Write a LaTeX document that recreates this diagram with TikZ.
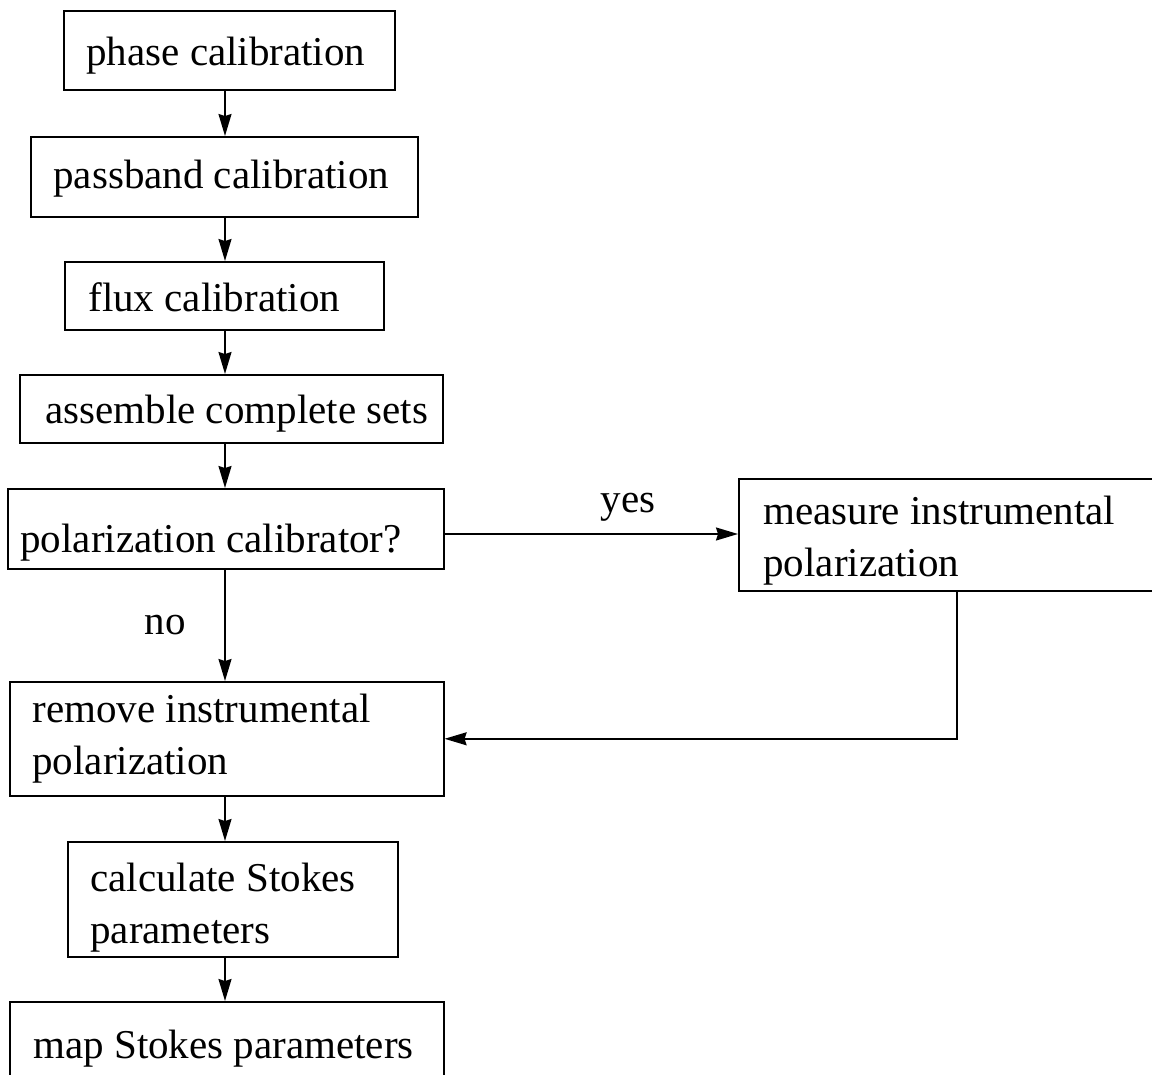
\documentclass[tikz,border=0pt]{standalone}
\usepackage{fontspec}
\setmainfont{Liberation Serif}
\usetikzlibrary{arrows.meta}
\begin{document}
\begin{tikzpicture}[x=0.5pt,y=-0.5pt,
  box/.style={draw, line width=0.8pt, inner sep=0pt, anchor=north west},
  lbl/.style={anchor=base west, inner sep=0pt, font=\fontsize{20.5}{26}\selectfont, align=left},
  arr/.style={line width=0.8pt, -{Stealth[length=11pt,width=6.5pt,inset=1pt]}}]
\useasboundingbox (0,0) rectangle (1152,1075);
% boxes
\node[box, minimum width=165.5pt, minimum height=39.5pt] (b1) at (63,10) {};
\node[box, minimum width=193.5pt, minimum height=40pt] (b2) at (30,136) {};
\node[box, minimum width=159.5pt, minimum height=34pt] (b3) at (64,261) {};
\node[box, minimum width=211.5pt, minimum height=34pt] (b4) at (19,374) {};
\node[box, minimum width=218pt, minimum height=40pt] (b5) at (7,488) {};
\node[box, minimum width=211pt, minimum height=56pt] (b6) at (738,478) {};
\node[box, minimum width=217pt, minimum height=57pt] (b7) at (9,681) {};
\node[box, minimum width=165pt, minimum height=57.5pt] (b8) at (67,841) {};
\node[box, minimum width=217pt, minimum height=44.5pt] (b9) at (9,1001) {};
% texts (multi-line: base = baseline of last line)
\node[lbl] (t1) at (86,66) {phase calibration};
\node[lbl] (t2) at (53,189) {passband calibration};
\node[lbl] (t3) at (88,312) {flux calibration};
\node[lbl] (t4) at (45,423) {assemble complete sets};
\node[lbl] (t5) at (20,552) {polarization calibrator?};
\node[lbl] (t6) at (763,576) {measure instrumental\\polarization};
\node[lbl] (t7) at (32,774) {remove instrumental\\polarization};
\node[lbl] (t8) at (90,943) {calculate Stokes\\parameters};
\node[lbl] (t9) at (33,1058) {map Stokes parameters};
\node[lbl, anchor=base] (yes) at (628,512) {yes};
\node[lbl, anchor=base] (no) at (165,634) {no};
% connectors
\coordinate (ax) at (225,0);
\coordinate (yy) at (0,534);
\coordinate (rx) at (957,0);
\draw[arr] (b1.south -| ax) -- (b2.north -| ax);
\draw[arr] (b2.south -| ax) -- (b3.north -| ax);
\draw[arr] (b3.south -| ax) -- (b4.north -| ax);
\draw[arr] (b4.south -| ax) -- (b5.north -| ax);
\draw[arr] (b5.south -| ax) -- (b7.north -| ax);
\draw[arr] (b7.south -| ax) -- (b8.north -| ax);
\draw[arr] (b8.south -| ax) -- (b9.north -| ax);
\draw[arr] (b5.east |- yy) -- (b6.west |- yy);
\draw[arr] (b6.south -| rx) |- (b7.east);
\end{tikzpicture}
\end{document}
